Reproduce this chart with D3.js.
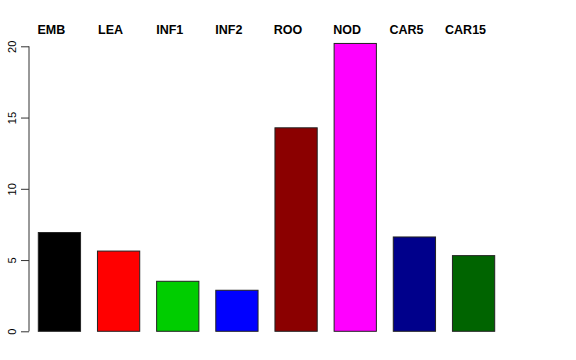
<!DOCTYPE html>
<html>
<head>
<meta charset="utf-8">
<script src="https://cdn.jsdelivr.net/npm/d3@7"></script>
<style>
  body { margin: 0; background: #fff; }
  svg { display: block; }
</style>
</head>
<body>
<div id="chart"></div>
<script>
const categories = ['EMB', 'LEA', 'INF1', 'INF2', 'ROO', 'NOD', 'CAR5', 'CAR15'];
const values = [6.93, 5.63, 3.51, 2.88, 14.28, 20.2, 6.62, 5.31];
const colors = ['#000000', '#ff0000', '#00cd00', '#0000ff', '#8b0000', '#ff00ff', '#00008b', '#006400'];
const yTicks = [0, 5, 10, 15, 20];

const width = 576, height = 360;

const svg = d3.select('#chart').append('svg')
	.attr('width', width)
	.attr('height', height);

const x = d3.scaleBand()
	.domain(categories)
	.range([38.3, 494.7])
	.paddingInner(0.4 / 1.4)
	.paddingOuter(0);

const y = d3.scaleLinear().domain([0, 20]).range([331.3, 46.3]);

// bars
svg.selectAll('rect.bar')
	.data(values)
	.enter()
	.append('rect')
	.attr('class', 'bar')
	.attr('x', (d, i) => x(categories[i]))
	.attr('y', d => y(d))
	.attr('width', x.bandwidth())
	.attr('height', d => y(0) - y(d))
	.attr('fill', (d, i) => colors[i])
	.attr('stroke', '#222')
	.attr('stroke-width', 1);

// y axis
const axis = d3.axisLeft(y).tickValues(yTicks).tickSize(8).tickPadding(5);
const g = svg.append('g').attr('transform', 'translate(29,0)').call(axis);
g.select('.domain').attr('stroke', '#333').attr('d', `M0,${y(0)}V${y(20)}`);
g.selectAll('.tick line').attr('stroke', '#333');
g.selectAll('.tick text')
	.attr('font-family', 'Liberation Sans, Arial, sans-serif')
	.attr('font-size', 11)
	.attr('fill', '#000')
	.attr('transform', 'rotate(-90)')
	.attr('x', 0)
	.attr('y', -13.5)
	.attr('dy', 0)
	.attr('text-anchor', 'middle');

// category labels on top
svg.selectAll('text.cat')
	.data(categories)
	.enter()
	.append('text')
	.attr('class', 'cat')
	.attr('x', d => x(d) + x.bandwidth() / 2 - 8)
	.attr('y', 34)
	.attr('text-anchor', 'middle')
	.attr('font-family', 'Liberation Sans, Arial, sans-serif')
	.attr('font-weight', 'bold')
	.attr('font-size', 12.5)
	.text(d => d);
</script>
</body>
</html>
